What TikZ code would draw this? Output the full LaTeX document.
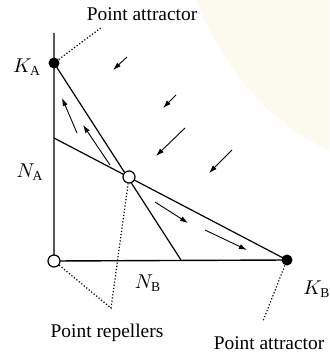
\documentclass[tikz,border=0pt]{standalone}
\usepackage{fontspec}
\setmainfont{Liberation Serif}
\usetikzlibrary{arrows.meta}
\definecolor{pagecream}{HTML}{FCF9EF}

\begin{document}
\begin{tikzpicture}[
      x=0.5pt,y=-0.5pt,
      axis/.style={line width=0.7pt},
      iso/.style={line width=0.6pt},
      flow/.style={line width=0.45pt,-{Latex[length=4pt,width=2.6pt]}},
      leader/.style={densely dotted,line width=0.6pt},
      stable/.style={circle,fill=black,inner sep=0pt,minimum size=5.5pt},
      unstable/.style={circle,draw,fill=white,line width=0.6pt,inner sep=0pt,minimum size=6pt},
      lbl/.style={font=\fontsize{9.7}{11}\selectfont,inner sep=1pt}
    ]
    \useasboundingbox (0,0) rectangle (329,353);
    % page tint in the corner
    \fill[pagecream] (196,0) .. controls (225,70) and (270,125) .. (329,150) -- (329,0) -- cycle;

    % axes and isoclines
    \coordinate (top) at (54,33);
    \coordinate (O) at (54,261);
    \coordinate (KA) at (54,63);
    \coordinate (KB) at (287,260);
    \coordinate (NA) at (54,138);
    \coordinate (NB) at (181,260);
    \coordinate (eq) at (129,177);
    \draw[axis] (top) -- (O) -- (KB);
    \draw[iso] (KA) -- (NB);
    \draw[iso] (NA) -- (KB);

    % flow arrows
    \foreach \xa/\ya/\xb/\yb in {127/57/113/70, 176/95/163/108, 185/128/156/156,
                                 232/150/209/173, 77/133/62/98, 110/165/83/125,
                                 155/202/188/223, 205/230/247/250}
      \draw[flow] (\xa,\ya) -- (\xb,\yb);

    % equilibria
    \node[stable] (ka) at (KA) {};
    \node[stable] (kb) at (KB) {};
    \node[unstable] (orig) at (O) {};
    \node[unstable] (mix) at (eq) {};

    % labels
    \node[lbl] (kalbl) at (27,67) {$K_{\mathrm{A}}$};
    \node[lbl] (nalbl) at (30,172) {$N_{\mathrm{A}}$};
    \node[lbl] (nblbl) at (148,283) {$N_{\mathrm{B}}$};
    \node[lbl] (kblbl) at (317,289) {$K_{\mathrm{B}}$};
    \node[lbl] (attrtop) at (142,14) {Point attractor};
    \node[lbl] (repel) at (107,333) {Point repellers};
    \node[lbl] (attrbot) at (269,343) {Point attractor};

    % leaders
    \coordinate (tipA) at (102,27);
    \coordinate (tipR) at (111,308);
    \coordinate (tipB) at (263,321);
    \draw[leader] (ka) -- (tipA);
    \draw[leader] (orig) -- (tipR) -- (mix);
    \draw[leader] (kb) -- (tipB);
\end{tikzpicture}
\end{document}
